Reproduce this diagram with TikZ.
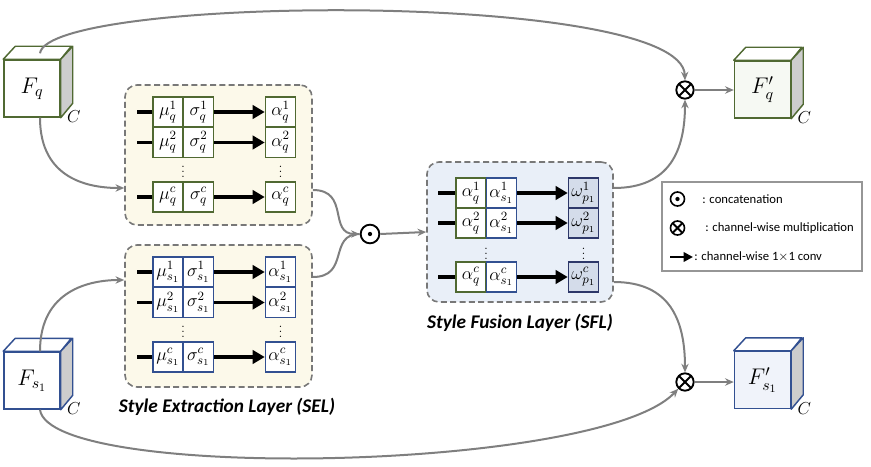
\RequirePackage{fix-cm}
\documentclass[tikz,border=0pt]{standalone}
\usepackage{fontspec}
\newfontfamily\cfont{Carlito}
\usetikzlibrary{arrows.meta,calc}
\definecolor{grn}{RGB}{80,105,50}
\definecolor{blu}{RGB}{50,80,145}
\definecolor{navy}{RGB}{45,55,105}
\definecolor{wfill}{RGB}{212,220,234}
\definecolor{selfill}{RGB}{252,249,234}
\definecolor{sflfill}{RGB}{233,239,248}
\definecolor{dgray}{RGB}{120,120,120}
\definecolor{cgray}{RGB}{127,127,127}
\definecolor{sidegray}{RGB}{205,205,205}
\definecolor{qpfill}{RGB}{246,249,243}
\definecolor{spfill}{RGB}{240,243,250}
\definecolor{lgray}{RGB}{150,150,150}
\newcommand\mkcube[5]{%
  \node[cubefront, draw=#3, fill=#4] (#1) at #2 {#5};
  \draw[line width=1.1pt, draw=#3, fill=white, line join=round] (#1.north west) -- ++(12,-13) -- ++(56,0) -- (#1.north east) -- cycle;
  \draw[line width=1.1pt, draw=#3, fill=sidegray, line join=round] (#1.north east) -- ++(12,-13) -- ++(0,57) -- (#1.south east) -- cycle;
  \node[font=\fontsize{13}{14}\selectfont, inner sep=0pt] (#1c) at ($(#1.south east)+(13,-1)$) {$C$};
}
\begin{document}
\begin{tikzpicture}[x=0.75pt,y=-0.75pt,
  cell/.style={draw, line width=1.2pt, fill=white, minimum width=22.5pt, minimum height=22.5pt, inner sep=0pt, font=\fontsize{13.5}{14}\selectfont},
  gcell/.style={cell, draw=grn},
  bcell/.style={cell, draw=blu},
  wcell/.style={cell, draw=navy, fill=wfill},
  conv/.style={line width=2.3pt, -{Triangle[length=9pt,width=10pt]}},
  lead/.style={line width=2.3pt},
  conn/.style={draw=cgray, line width=1.5pt, -{Stealth[length=6.5pt,width=5.5pt]}},
  layer/.style={draw=dgray, dash pattern=on 4.5pt off 2.5pt, line width=1.2pt, rounded corners=9pt, inner sep=0pt},
  cubefront/.style={draw, line width=1.1pt, minimum width=42pt, minimum height=42.75pt, inner sep=0pt, font=\fontsize{17}{19}\selectfont},
  otim/.style={circle, draw=black, line width=1.4pt, minimum size=13pt, inner sep=0pt,
    path picture={\draw[line width=1.4pt] (path picture bounding box.north west) -- (path picture bounding box.south east) (path picture bounding box.north east) -- (path picture bounding box.south west);}},
  odot/.style={circle, draw=black, line width=1.4pt, minimum size=14pt, inner sep=0pt,
    path picture={\fill (path picture bounding box.center) circle (1.6pt);}},
  layerlabel/.style={font=\cfont\bfseries\itshape\fontsize{14.5}{16}\selectfont},
  legtext/.style={font=\cfont\fontsize{9.5}{11}\selectfont, anchor=west, inner sep=0pt},
  dots/.style={font=\fontsize{9}{9}\selectfont, inner sep=0pt}
]
\useasboundingbox (0,0) rectangle (871,467);

% layer boxes
\node[layer, fill=selfill, minimum width=140.25pt, minimum height=105pt] (selq) at (218.5,155) {};
\node[layer, fill=selfill, minimum width=140.25pt, minimum height=106.5pt] (sels) at (218.5,316) {};
\node[layer, fill=sflfill, minimum width=139.5pt, minimum height=105pt] (sfl) at (520,232) {};

% top SEL rows
\foreach \i/\y/\s in {1/112/1, 2/142.5/2, 3/197/c} {
  \node[gcell] (qm\i) at (168,\y) {$\mu_q^{\s}$};
  \node[gcell] (qs\i) at (198.5,\y) {$\sigma_q^{\s}$};
  \node[gcell] (qa\i) at (280.5,\y) {$\alpha_q^{\s}$};
  \coordinate (ql\i) at (137,\y);
  \draw[lead] (ql\i) -- (qm\i.west);
  \draw[conv] (qs\i.east) -- (qa\i.west);
}
\node[dots] (qd1) at (183,168) {$\vdots$};
\node[dots] (qd2) at (280.5,168) {$\vdots$};

% bottom SEL rows
\foreach \i/\y/\s in {1/272/1, 2/302.5/2, 3/357/c} {
  \node[bcell] (sm\i) at (168,\y) {$\mu_{s_1}^{\s}$};
  \node[bcell] (ss\i) at (198.5,\y) {$\sigma_{s_1}^{\s}$};
  \node[bcell] (sa\i) at (280.5,\y) {$\alpha_{s_1}^{\s}$};
  \coordinate (sl\i) at (137,\y);
  \draw[lead] (sl\i) -- (sm\i.west);
  \draw[conv] (ss\i.east) -- (sa\i.west);
}
\node[dots] (sd1) at (183,328) {$\vdots$};
\node[dots] (sd2) at (280.5,328) {$\vdots$};

% SFL rows
\foreach \i/\y/\s in {1/193/1, 2/223/2, 3/277/c} {
  \node[gcell] (fa\i) at (471,\y) {$\alpha_q^{\s}$};
  \node[bcell] (fb\i) at (501.5,\y) {$\alpha_{s_1}^{\s}$};
  \node[wcell] (fw\i) at (583.5,\y) {$\omega_{p_1}^{\s}$};
  \coordinate (fl\i) at (438,\y);
  \draw[lead] (fl\i) -- (fa\i.west);
  \draw[conv] (fb\i.east) -- (fw\i.west);
}
\node[dots] (fd1) at (486,250) {$\vdots$};
\node[dots] (fd2) at (583.5,250) {$\vdots$};

% labels
\node[layerlabel] (sellab) at (227,407) {Style Extraction Layer (SEL)};
\node[layerlabel] (sfllab) at (520,323) {Style Fusion Layer (SFL)};

% operators
\node[odot] (cat) at (370,234) {};
\node[otim] (mq) at (685,90) {};
\node[otim] (ms) at (685,382) {};

% cubes
\mkcube{fq}{(32,88.5)}{grn}{white}{$F_q$}
\mkcube{fs}{(32,380.5)}{blu}{white}{$F_{s_1}$}
\mkcube{fqp}{(762.5,89.5)}{grn}{qpfill}{$F_q'$}
\mkcube{fsp}{(762.5,380)}{blu}{spfill}{$F_{s_1}'$}

% connector anchors
\coordinate (fqt) at ($(fq.north)+(8,-6)$);
\coordinate (fqb) at ($(fq.south)+(8,0)$);
\coordinate (fst) at ($(fs.north)+(8,0)$);
\coordinate (fsb) at ($(fs.south)+(8,0)$);
\coordinate (selqin) at (selq.west |- 0,188);
\coordinate (selsin) at (sels.west |- 0,280);
\coordinate (selqout) at (selq.east |- 0,190);
\coordinate (selsout) at (sels.east |- 0,277);
\coordinate (sflout1) at (sfl.east |- 0,188);
\coordinate (sflout2) at (sfl.east |- 0,282);

% connectors
\draw[conn] (fqt) .. controls (48,-5) and (682,-10) .. (mq.north);
\draw[conn] (fqb) .. controls (40,180) and (90,188) .. (selqin);
\draw[conn] (fst) .. controls (40,290) and (90,280) .. (selsin);
\draw[conn] (fsb) .. controls (50,482) and (600,472) .. (ms.south west);
\draw[conn] (selqout) .. controls (350,190) and (328,234) .. (cat.west);
\draw[draw=cgray, line width=1.5pt] (selsout) .. controls (350,277) and (328,234) .. (cat.west);
\draw[conn] (cat.east) -- (sfl.west);
\draw[conn] (sflout1) .. controls (670,188) and (685,150) .. (mq.south);
\draw[conn] (sflout2) .. controls (670,282) and (685,320) .. (ms.north);
\draw[conn] (mq.east) -- (fqp.west |- mq.east);
\draw[conn] (ms.east) -- (fsp.west |- ms.east);

% legend
\node[draw=lgray, line width=1pt, minimum width=150pt, minimum height=66.75pt, inner sep=0pt] (leg) at (762,226.5) {};
\node[odot, minimum size=10.5pt, line width=1.2pt] (lcat) at (677.5,199) {};
\node[otim, minimum size=10.5pt, line width=1.2pt] (lmul) at (677.5,228) {};
\coordinate (la0) at (670,257);
\coordinate (la1) at (693,257);
\draw[line width=2pt, -{Triangle[length=7pt,width=7pt]}] (la0) -- (la1);
\node[legtext] (lt1) at (702,199) {: concatenation};
\node[legtext] (lt2) at (705,228) {: channel-wise multiplication};
\node[legtext] (lt3) at (694,257) {: channel-wise 1$\times$1 conv};
\end{tikzpicture}
\end{document}
